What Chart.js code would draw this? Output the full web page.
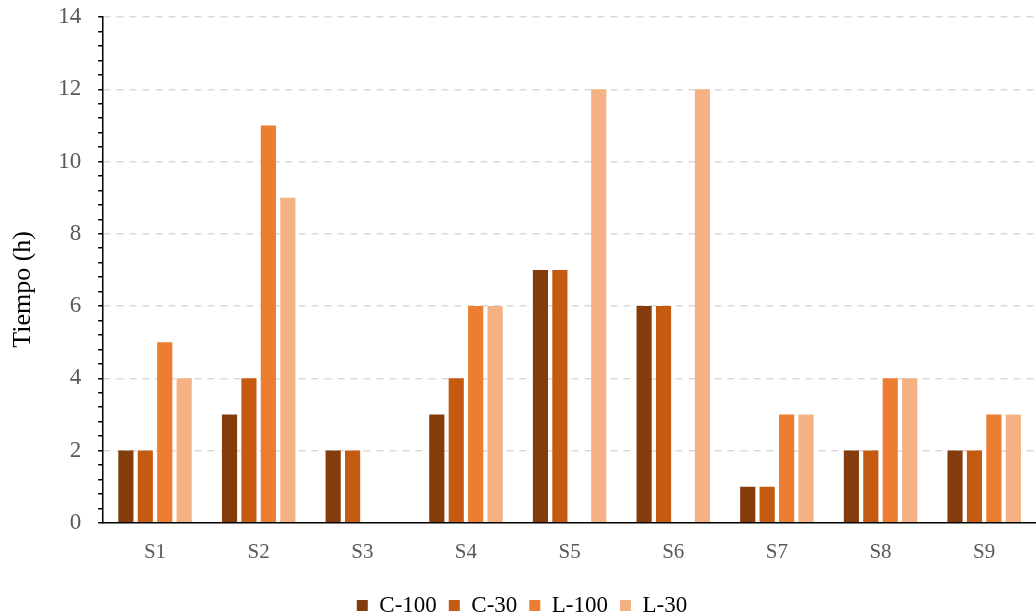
<!DOCTYPE html>
<html>
<head>
<meta charset="utf-8">
<script src="https://cdn.jsdelivr.net/npm/chart.js@4.4.0/dist/chart.umd.min.js"></script>
<style>
html,body{margin:0;padding:0;background:#fff;}
#wrap{width:1036px;height:615px;position:relative;}
</style>
</head>
<body>
<div id="wrap"><canvas id="c" width="1036" height="615"></canvas></div>
<script>
const categories = ["S1","S2","S3","S4","S5","S6","S7","S8","S9"];
const c100 = [2,3,2,3,7,6,1,2,2];
const c30  = [2,4,2,4,7,6,1,2,2];
const l100 = [5,11,0,6,0,0,3,4,3];
const l30  = [4,9,0,6,12,12,3,4,3];
const seriesNames = ["C-100","C-30","L-100","L-30"];
const yTitle = "Tiempo (h)";
const yMax = 14;
const yMajorStep = 2;
const yMinorStep = 0.4;

const colors = ["#843C0C","#C55A11","#ED7D31","#F4B183"];
const FONT = "'Liberation Serif','Times New Roman',serif";
const isMajor = v => Math.abs(v/yMajorStep - Math.round(v/yMajorStep)) < 1e-6;

new Chart(document.getElementById('c'), {
  type: 'bar',
  data: {
    labels: categories,
    datasets: [c100,c30,l100,l30].map((d,i)=>({
      label: seriesNames[i],
      data: d,
      backgroundColor: colors[i],
      borderWidth: 0,
      categoryPercentage: 0.75,
      barPercentage: 0.78
    }))
  },
  options: {
    responsive: false,
    animation: false,
    devicePixelRatio: 1,
    layout: {padding: {left: 8, right: 0, top: 0, bottom: -12}},
    plugins: {
      tooltip: {enabled: false},
      legend: {
        position: 'bottom',
        labels: {
          boxWidth: 11, boxHeight: 11, padding: 12,
          color: '#000',
          font: {family: FONT, size: 23}
        }
      }
    },
    scales: {
      x: {
        grid: {display: false, drawTicks: false},
        border: {display: true, color: '#000', width: 1.5},
        ticks: {color: '#595959', font: {family: FONT, size: 21}, padding: 17}
      },
      y: {
        min: 0, max: yMax,
        afterFit: s => { s.paddingTop = 17; },
        grid: {
          color: ctx => isMajor(ctx.tick.value) && ctx.tick.value !== 0 ? '#d9d9d9' : 'rgba(0,0,0,0)',
          lineWidth: 1.5,
          tickColor: '#000',
          tickLength: 5,
          tickWidth: 1.5
        },
        border: {display: true, color: '#000', width: 1.5, dash: [7,6]},
        ticks: {
          stepSize: yMinorStep,
          maxTicksLimit: 200,
          autoSkip: false,
          color: '#595959',
          padding: 17,
          font: {family: FONT, size: 23},
          callback: v => isMajor(v) ? String(Math.round(v)) : ''
        },
        title: {
          display: true, text: yTitle + '\u00a0'.repeat(6), color: '#000',
          font: {family: FONT, size: 26}, padding: {top: 0, bottom: 2}
        }
      }
    }
  }
});
</script>
</body>
</html>
